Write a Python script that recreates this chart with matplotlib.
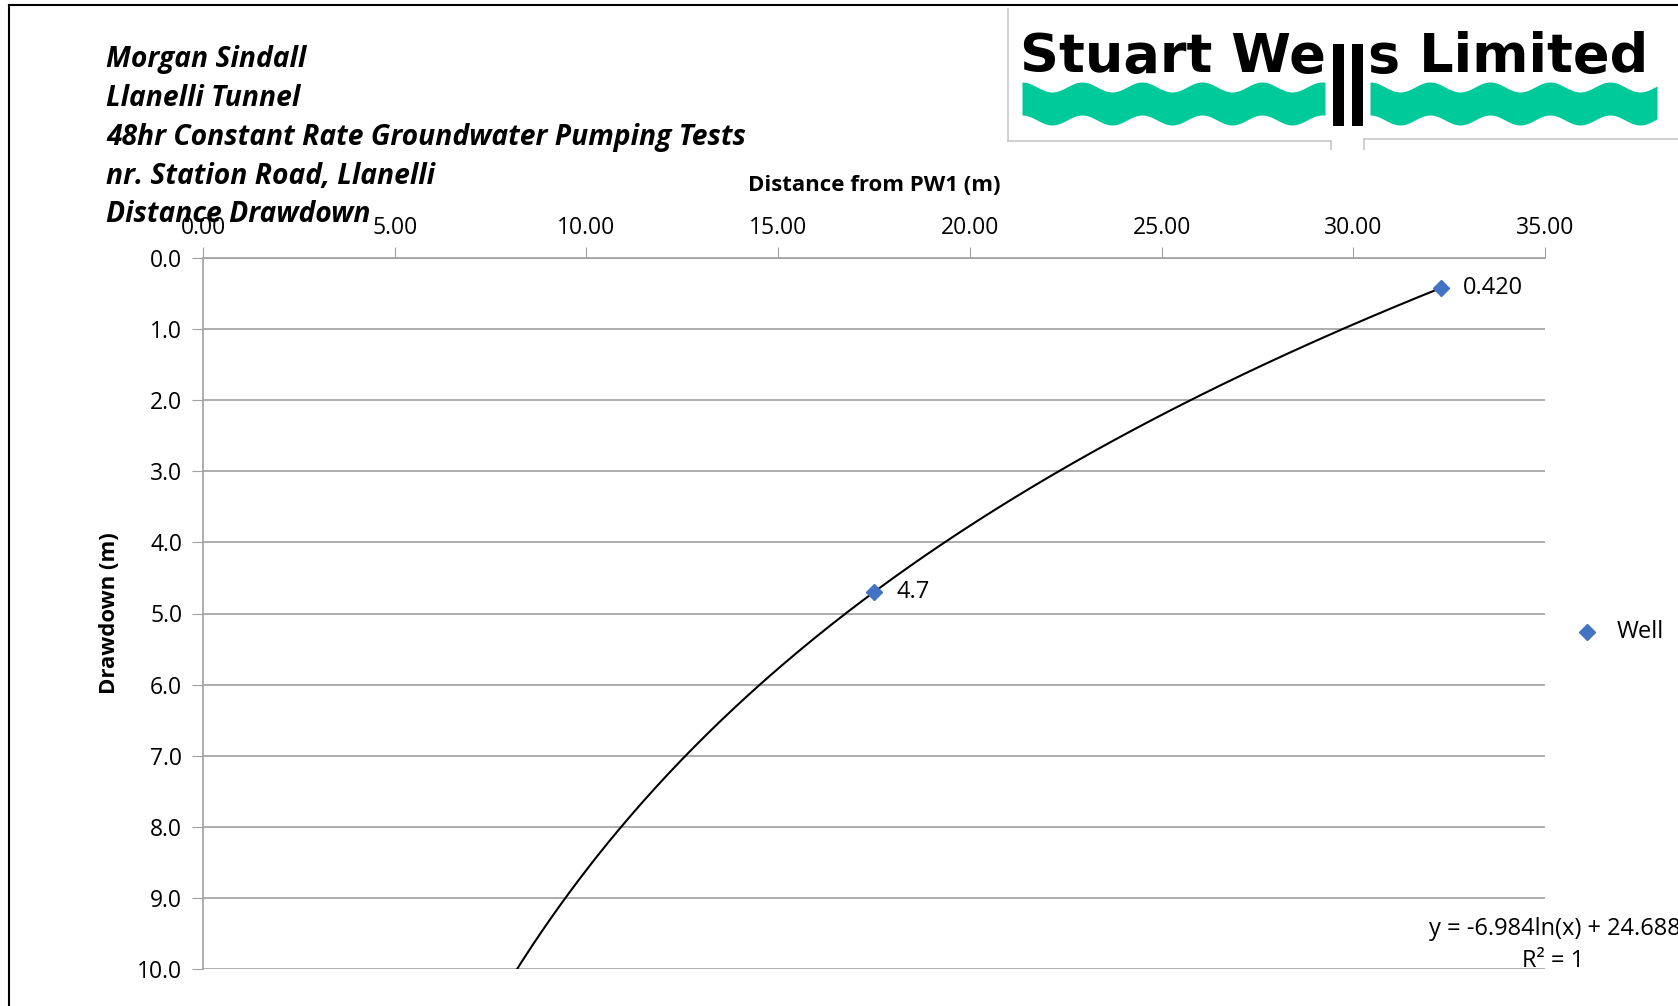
import numpy as np
import matplotlib
matplotlib.use("Agg")
import matplotlib.pyplot as plt
from matplotlib.lines import Line2D
from matplotlib.ticker import FormatStrFormatter

# data
distance = [17.5, 32.29]
drawdown = [4.7, 0.42]
point_labels = ["4.7", "0.420"]
fit_a, fit_b = -6.984, 24.688
title_lines = ["Morgan Sindall", "Llanelli Tunnel",
               "48hr Constant Rate Groundwater Pumping Tests",
               "nr. Station Road, Llanelli", "Distance Drawdown"]

W, H = 1678, 1006
fig = plt.figure(figsize=(W / 100, H / 100), dpi=100)
plt.rcParams['font.family'] = ['Open Sans', 'DejaVu Sans']

def fx(px):
    return px / W

def fy(py):
    return 1 - py / H

# outer chart border (top and left visible)
fig.add_artist(Line2D([fx(9), 1], [fy(5), fy(5)], color='black', lw=1.5))
fig.add_artist(Line2D([fx(9), fx(9)], [fy(5), 0], color='black', lw=1.5))

ax = fig.add_axes([fx(203), fy(969), fx(1545) - fx(203), fy(258) - fy(969)])
ax.set_xlim(0, 35)
ax.set_ylim(10, 0)
ax.xaxis.tick_top()
ax.xaxis.set_label_position('top')
ax.set_xticks(np.arange(0, 36, 5))
ax.set_yticks(np.arange(0, 11, 1))
ax.xaxis.set_major_formatter(FormatStrFormatter('%.2f'))
ax.yaxis.set_major_formatter(FormatStrFormatter('%.1f'))
ax.tick_params(axis='x', direction='out', length=8, color='#a0a0a0', labelsize=16.5, pad=5)
ax.tick_params(axis='y', direction='out', length=8, color='#a0a0a0', labelsize=16.5, pad=7)
for s in ['right', 'bottom']:
    ax.spines[s].set_visible(False)
for s in ['top', 'left']:
    ax.spines[s].set_color('#a0a0a0')
    ax.spines[s].set_linewidth(1.2)
ax.grid(axis='y', color='#a0a0a0', lw=1.2)
ax.set_axisbelow(True)
ax.set_xlabel('Distance from PW1 (m)', fontsize=16, fontweight='bold', labelpad=18)
ax.set_ylabel('Drawdown (m)', fontsize=16, fontweight='bold', labelpad=12)

# log trendline
xs = np.linspace(7.5, max(distance), 300)
ax.plot(xs, fit_a * np.log(xs) + fit_b, color='black', lw=1.5, clip_on=True)
ax.plot(distance, drawdown, linestyle='none', marker='D', markersize=8,
        color='#4472C4', clip_on=False, zorder=5)
for x, y, lab in zip(distance, drawdown, point_labels):
    ax.annotate(lab, (x, y), xytext=(16, 0), textcoords='offset points',
                fontsize=17, va='center', ha='left')

# legend
fig.text(fx(1617), fy(632), 'Well', fontsize=17, va='center', ha='left')
fig.add_artist(Line2D([fx(1587)], [fy(632)], marker='D', markersize=8,
                      color='#4472C4', linestyle='none'))

# trendline equation
fig.text(fx(1555), fy(929), 'y = -6.984ln(x) + 24.688', fontsize=17, ha='center', va='center')
fig.text(fx(1553), fy(961), 'R² = 1', fontsize=17, ha='center', va='center')

# title block
for i, line in enumerate(title_lines):
    fig.text(fx(106), fy(59 + i * 39), line, fontsize=20.3, fontstyle='italic',
             fontweight='bold', va='center', ha='left')

# logo
lg = fig.add_axes([fx(1007), fy(150), 1 - fx(1007), fy(0) - fy(150)])
lg.set_xlim(1007, W)
lg.set_ylim(150, 0)
lg.axis('off')
box = '#c8c8c8'
lg.plot([1008, 1008], [9, 141], color=box, lw=1.2)
lg.plot([1008, 1331], [141, 141], color=box, lw=1.2)
lg.plot([1331, 1331], [141, 150], color=box, lw=1.2)
lg.plot([1364, W], [139, 139], color=box, lw=1.2)
lg.plot([1364, 1364], [139, 150], color=box, lw=1.2)
green = '#00C99A'
for x0, x1 in [(1022, 1325), (1370, 1657)]:
    wx = np.linspace(x0, x1, 200)
    top = 87 + 5 * np.cos(2 * np.pi * (wx - x0 - 30) / 60)
    bot = 120 + 5 * np.cos(2 * np.pi * (wx - x0 - 30) / 60)
    lg.fill_between(wx, top, bot, color=green, lw=0)
lg.fill_between([1333, 1344], [44, 44], [126, 126], color='black', lw=0)
lg.fill_between([1352, 1363], [44, 44], [126, 126], color='black', lw=0)
lg.text(1326, 72, 'Stuart We', fontsize=39, fontweight='heavy', ha='right',
        va='baseline', family='DejaVu Sans')
lg.text(1368, 72, 's Limited', fontsize=39, fontweight='heavy', ha='left',
        va='baseline', family='DejaVu Sans')

fig.savefig('out.png', dpi=100)
